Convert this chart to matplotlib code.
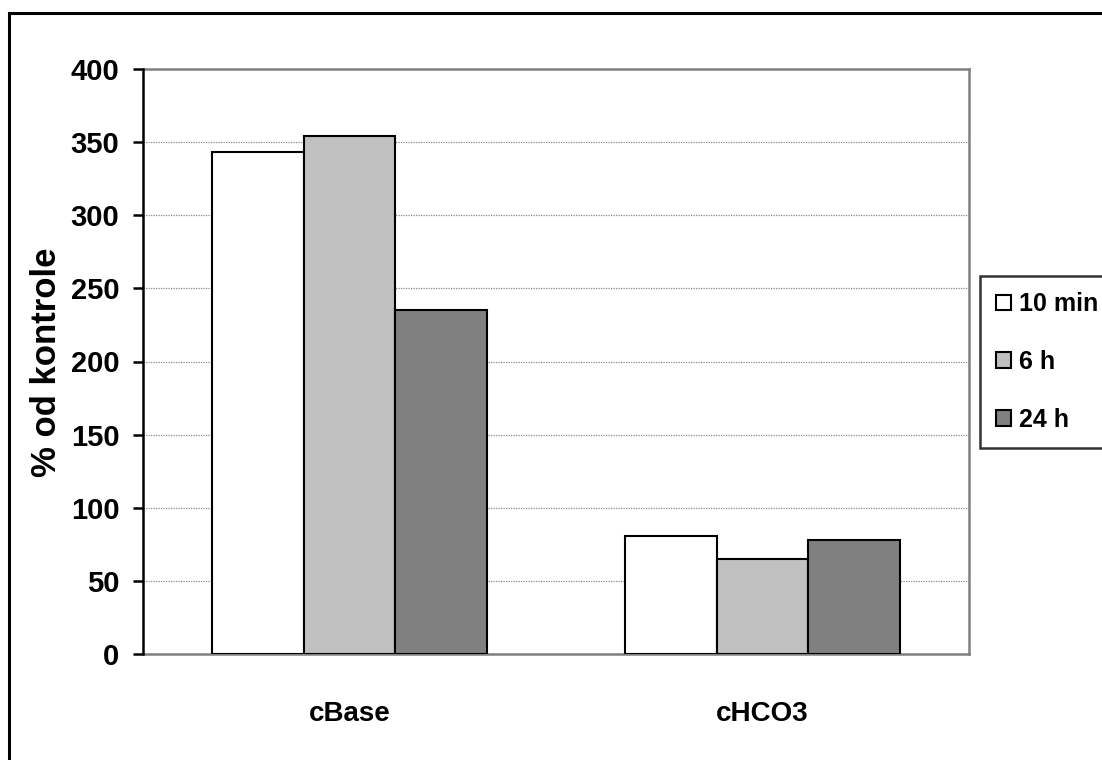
import numpy as np
import matplotlib
matplotlib.use('Agg')
import matplotlib.pyplot as plt
from matplotlib.patches import Rectangle

# Данные
categories = ['cBase', 'cHCO3']
series_names = ['10 min', '6 h', '24 h']
values_10min = [343, 81]
values_6h = [354, 65]
values_24h = [235, 78]
colors = ['#ffffff', '#c0c0c0', '#808080']
yticks = [0, 50, 100, 150, 200, 250, 300, 350, 400]

plt.rcParams['font.family'] = ['Liberation Sans', 'DejaVu Sans']
plt.rcParams['font.weight'] = 'bold'
plt.rcParams['font.size'] = 20

fig = plt.figure(figsize=(11.02, 7.6), dpi=100)
ax = fig.add_axes([143 / 1102, 1 - 654 / 760, 826 / 1102, 585 / 760])

x = np.arange(len(categories))
w = 0.2225
for i, (vals, name) in enumerate(zip([values_10min, values_6h, values_24h], series_names)):
    ax.bar(x + (i - 1) * w, vals, width=w, color=colors[i], edgecolor='black',
           linewidth=1.5, label=name, zorder=3)

ax.set_xlim(-0.5, 1.5)
ax.set_ylim(0, 400)
ax.set_yticks(yticks)
ax.set_xticks(x)
ax.set_xticklabels(categories)

# Сетка и рамка
ax.grid(axis='y', color='#8a8a8a', linestyle=(0, (1, 1)), linewidth=0.9, zorder=0)
for s in ['top', 'right', 'bottom']:
    ax.spines[s].set_color('#808080')
    ax.spines[s].set_linewidth(1.8)
ax.spines['left'].set_color('black')
ax.spines['left'].set_linewidth(1.8)
ax.spines['left'].set_zorder(4)

ax.tick_params(axis='y', direction='out', length=7, width=1.8, pad=10, labelsize=21)
ax.tick_params(axis='x', length=0, pad=34, labelsize=20)

fig.text(47 / 1102, 1 - 362 / 760, '% od kontrole', rotation=90, ha='center', va='center',
         fontsize=25, fontweight='bold')

# Легенда
leg = fig.legend(loc='upper left', bbox_to_anchor=(980 / 1102, 1 - 276 / 760),
                 prop={'size': 18, 'weight': 'bold'},
                 frameon=True, fancybox=False, handlelength=0.6, handleheight=0.6,
                 handletextpad=0.3, borderpad=0.65, labelspacing=1.35, borderaxespad=0)
leg.get_frame().set_edgecolor('black')
leg.get_frame().set_linewidth(1.8)

# Рамка вокруг рисунка
fig.patches.append(Rectangle((9 / 1102, -0.1), 1.2, 1.1 - 12.5 / 760, transform=fig.transFigure,
                             fill=False, edgecolor='black', linewidth=2.2))

fig.savefig('out.png', dpi=100)
